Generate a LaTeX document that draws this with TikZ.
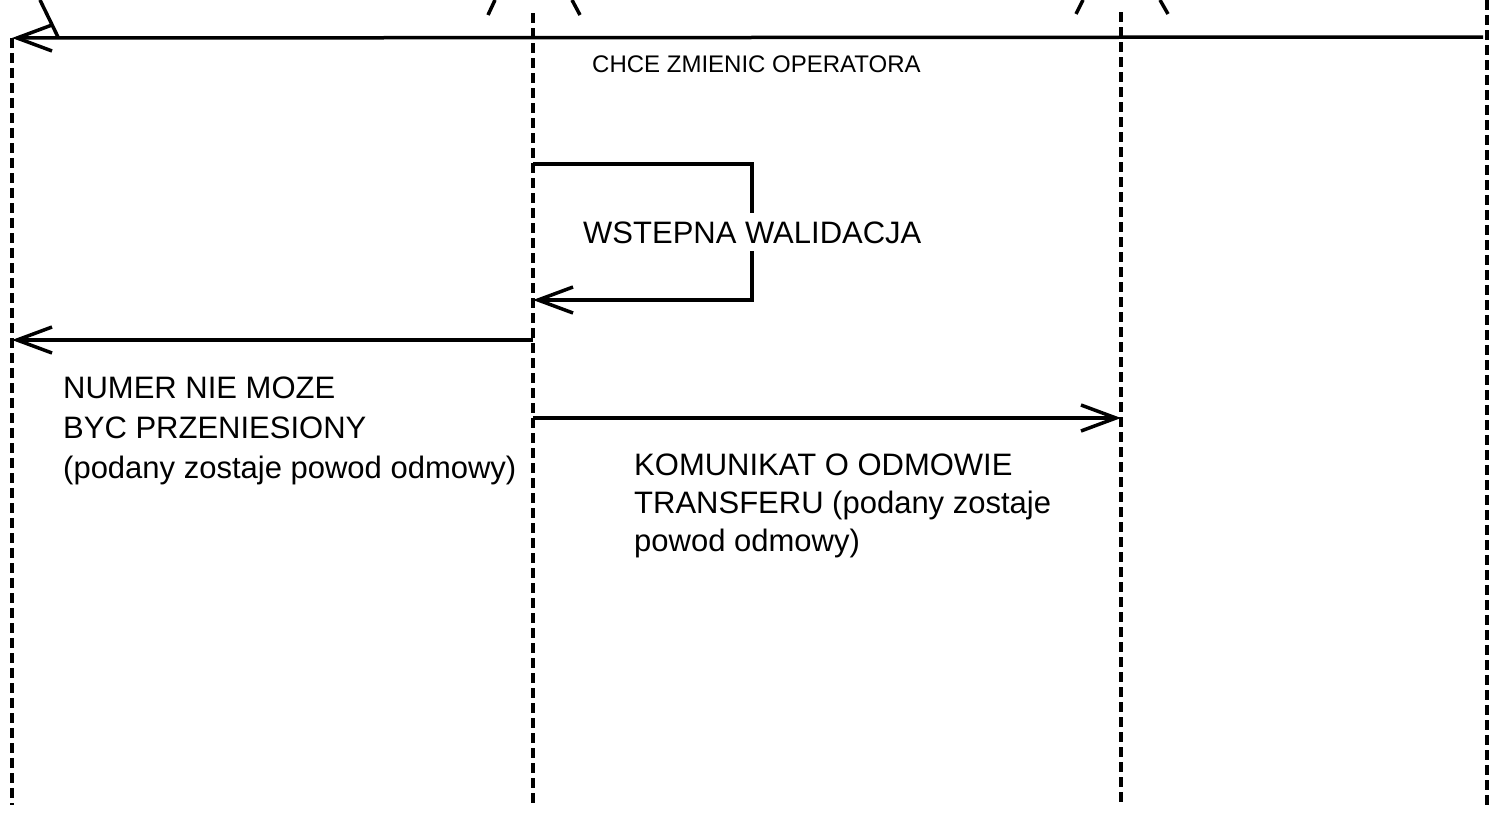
\documentclass[tikz,border=0pt]{standalone}
\usepackage{fontspec}
\setmainfont{Liberation Sans}
\usetikzlibrary{arrows.meta}
\tikzset{
  life/.style={line width=3.5pt, dash pattern=on 10pt off 5pt},
  msg/.style={line width=3.5pt, -{Straight Barb[length=35pt,width=26pt]}},
  plain/.style={line width=3.5pt},
  big/.style={inner sep=0pt, align=left, font=\fontsize{31}{40}\selectfont},
  small/.style={inner sep=0pt, font=\fontsize{24}{28}\selectfont},
}
\begin{document}
\begin{tikzpicture}[x=1pt,y=-1pt]
\useasboundingbox (0,0) rectangle (1490,817);
% lifeline anchors
\coordinate (A1) at (12,38);   \coordinate (A2) at (12,805);
\coordinate (B1) at (533,13);  \coordinate (B2) at (533,805);
\coordinate (C1) at (1121,12); \coordinate (C2) at (1121,805);
\coordinate (D1) at (1487,0);  \coordinate (D2) at (1487,805);
\draw[life] (A1) -- (A2);
\draw[life] (B1) -- (B2);
\draw[life] (C1) -- (C2);
\draw[life] (D1) -- (D2);
% figure remnants at top
\draw[plain] (40,0) -- (58,37);
\draw[plain] (495,0) -- (488,15);
\draw[plain] (572,0) -- (580,15);
\draw[plain] (1083,0) -- (1076,14);
\draw[plain] (1160,0) -- (1168,14);
% message 1
\coordinate (m1s) at (1483,37);
\coordinate (m1e) at (12,38);
\draw[msg] (m1s) -- (m1e);
\node[small, anchor=base west] (t1) at (592,72) {CHCE ZMIENIC OPERATORA};
% self message
\coordinate (s0) at (533,164);
\coordinate (s1) at (752,164);
\coordinate (s2) at (752,300);
\coordinate (s3) at (533,300);
\draw[msg] (s0) -- (s1) -- (s2) -- (s3);
\node[big, anchor=base west, fill=white, inner ysep=8pt] (t2) at (583,243) {WSTEPNA WALIDACJA};
% message 3
\coordinate (m3s) at (533,340);
\coordinate (m3e) at (12,340);
\draw[msg] (m3s) -- (m3e);
\node[big, anchor=north west] (t3) at (63,377) {NUMER NIE MOZE\\BYC PRZENIESIONY\\(podany zostaje powod odmowy)};
% message 4
\coordinate (m4s) at (533,418);
\coordinate (m4e) at (1121,418);
\draw[msg] (m4s) -- (m4e);
\node[big, anchor=north west, font=\fontsize{31}{38}\selectfont] (t4) at (634,454) {KOMUNIKAT O ODMOWIE\\TRANSFERU (podany zostaje\\powod odmowy)};
\end{tikzpicture}
\end{document}
